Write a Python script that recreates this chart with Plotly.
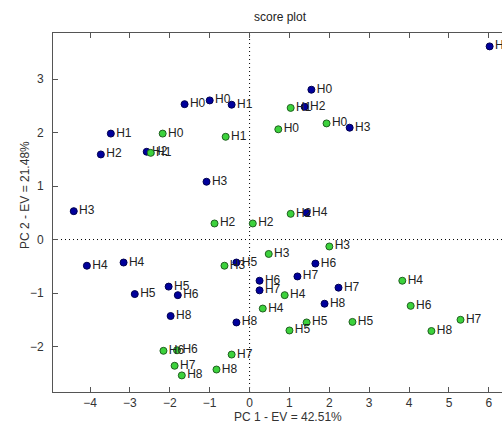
import plotly.graph_objects as go

# Blue group
blue_x = [6.02, 1.55, -1.00, -1.63, -0.45, 1.38, 2.51, -3.48, -3.73, -2.58, -1.08, -4.41,
          1.43, 1.65, -0.33, -4.08, -3.16, -2.88, -2.03, -1.80, 0.25, 0.25, 1.20, 2.23,
          1.88, -0.33, -1.98]
blue_y = [3.61, 2.80, 2.60, 2.53, 2.52, 2.48, 2.09, 1.98, 1.59, 1.64, 1.08, 0.53,
          0.50, -0.45, -0.43, -0.49, -0.43, -1.02, -0.88, -1.04, -0.77, -0.95, -0.69, -0.90,
          -1.20, -1.55, -1.43]
blue_labels = ["H1", "H0", "H0", "H0", "H1", "H2", "H3", "H1", "H2", "H2", "H3", "H3",
               "H4", "H6", "H5", "H4", "H4", "H5", "H5", "H6", "H6", "H7", "H7", "H7",
               "H8", "H8", "H8"]

# Green group
green_x = [1.03, 0.72, 1.93, -0.60, -2.18, -2.48, -0.88, 0.08, 1.03, 2.00, 0.48, -0.63,
           0.88, 0.33, 3.83, 1.43, 1.00, 2.58, 4.04, -2.16, -1.82, 5.29, -1.88, -0.45,
           4.56, -1.70, -0.83]
green_y = [2.46, 2.06, 2.17, 1.92, 1.98, 1.62, 0.30, 0.30, 0.48, -0.13, -0.27, -0.49,
           -1.04, -1.29, -0.77, -1.55, -1.70, -1.54, -1.24, -2.08, -2.07, -1.50, -2.36, -2.15,
           -1.71, -2.54, -2.43]
green_labels = ["H1", "H0", "H0", "H1", "H0", "H1", "H2", "H2", "H2", "H3", "H3", "H3",
                "H4", "H4", "H4", "H5", "H5", "H5", "H6", "H6", "H6", "H7", "H7", "H7",
                "H8", "H8", "H8"]

x_ticks = [-4, -3, -2, -1, 0, 1, 2, 3, 4, 5, 6]
y_ticks = [-2, -1, 0, 1, 2, 3]
title_text = "score plot"
x_title = "PC 1 - EV = 42.51%"
y_title = "PC 2 - EV = 21.48%"

FONT = "Liberation Sans, Arial, sans-serif"
text_font = dict(family=FONT, size=12, color="#222222")

fig = go.Figure()
fig.add_trace(go.Scatter(
    x=blue_x, y=blue_y, text=blue_labels, mode="markers+text",
    textposition="middle right", textfont=text_font,
    marker=dict(size=7, color="#00009c", line=dict(color="#000050", width=1)),
    showlegend=False, hoverinfo="skip"))
fig.add_trace(go.Scatter(
    x=green_x, y=green_y, text=green_labels, mode="markers+text",
    textposition="middle right", textfont=text_font,
    marker=dict(size=7, color="#3cd23c", line=dict(color="#1f5f1f", width=1)),
    showlegend=False, hoverinfo="skip"))

# dotted zero lines
fig.add_shape(type="line", xref="x", yref="paper", x0=0, x1=0, y0=0, y1=1,
              line=dict(color="#000000", width=1, dash="1px,3px"), layer="below")
fig.add_shape(type="line", xref="paper", yref="y", x0=0, x1=1, y0=0, y1=0,
              line=dict(color="#000000", width=1, dash="1px,3px"), layer="below")

axis_common = dict(
    showgrid=False, zeroline=False, showline=True, linecolor="#555555", linewidth=1,
    ticks="inside", ticklen=5, tickcolor="#555555",
    tickfont=dict(family=FONT, size=12, color="#333333"),
)
fig.update_xaxes(range=[-4.93, 6.33], tickvals=x_ticks, mirror="ticks",
                 ticklabelstandoff=0, **axis_common)
fig.update_yaxes(range=[-2.85, 3.86], tickvals=y_ticks, mirror=False,
                 ticklabelstandoff=6, **axis_common)

fig.add_annotation(text=title_text, xref="paper", yref="paper",
                   x=(280 - 53) / 449, y=1 + (33 - 17) / 359,
                   xanchor="center", yanchor="middle", showarrow=False,
                   font=dict(family=FONT, size=12, color="#222222"))
fig.add_annotation(text=x_title, xref="paper", yref="paper",
                   x=(288 - 53) / 449, y=-(417 - 392) / 359,
                   xanchor="center", yanchor="middle", showarrow=False,
                   font=dict(family=FONT, size=12, color="#333333"))
fig.add_annotation(text=y_title, xref="paper", yref="paper", textangle=-90,
                   x=(25 - 53) / 449, y=(392 - 195) / 359,
                   xanchor="center", yanchor="middle", showarrow=False,
                   font=dict(family=FONT, size=12, color="#333333"))

fig.update_layout(
    width=502, height=427,
    margin=dict(l=53, r=0, t=33, b=35),
    paper_bgcolor="white", plot_bgcolor="white",
)

fig.write_html("out.html")
